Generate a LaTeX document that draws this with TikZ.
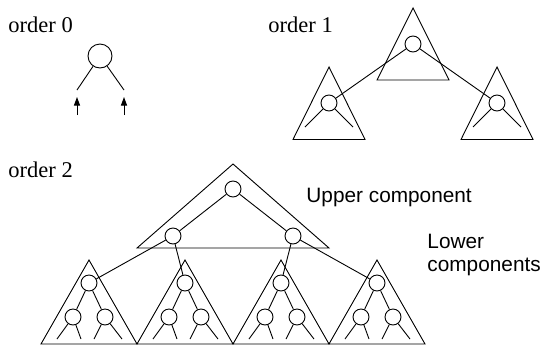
\documentclass[tikz,border=0pt]{standalone}
\usepackage{fontspec}
\setmainfont{Liberation Serif}
\newfontfamily\labelsans{Liberation Sans}
\usetikzlibrary{arrows.meta}
\begin{document}
\begin{tikzpicture}[x=1pt,y=-1pt,line width=0.9pt,
  vert/.style={circle,draw,inner sep=0pt,minimum size=16pt},
  bigvert/.style={vert,minimum size=24pt},
  comp/.style={draw,line join=miter},
  link/.style={draw},
  uparrow/.style={-{Triangle[length=8.5pt,width=6pt]}},
  ordertext/.style={font=\fontsize{22.5}{27}\selectfont,anchor=base west,inner sep=0pt},
  parttext/.style={font=\labelsans\fontsize{20.8}{23.3}\selectfont,anchor=base west,inner sep=0pt,align=left}]
\useasboundingbox (0,0) rectangle (543,346);

% ---- order 0: a single vertex with two incoming edges
\node[ordertext] (t0) at (8,32.7) {order 0};
\node[bigvert] (v0) at (100,56) {};
\coordinate (v0l) at (77,90);
\coordinate (v0r) at (124,90);
\draw[link] (v0) -- (v0l);
\draw[link] (v0) -- (v0r);
\coordinate (a0ls) at (77,115);
\coordinate (a0le) at (77,97);
\coordinate (a0rs) at (124,115);
\coordinate (a0re) at (124,97);
\draw[uparrow] (a0ls) -- (a0le);
\draw[uparrow] (a0rs) -- (a0re);

% ---- order 1: three order-0 blocks
\node[ordertext] (t1) at (268,32.5) {order 1};
\draw[comp] (413,8) -- (449,80) -- (377,80) -- cycle;
\node[vert] (o1t) at (413,44) {};
\foreach \n/\cx in {a/329,b/497} {
  \draw[comp] (\cx,67) -- (\cx+36,139.5) -- (\cx-36,139.5) -- cycle;
  \node[vert] (o1\n) at (\cx,103) {};
  \coordinate (o1\n l) at (\cx-24,127);
  \coordinate (o1\n r) at (\cx+24,127);
  \draw[link] (o1\n) -- (o1\n l);
  \draw[link] (o1\n) -- (o1\n r);
}
\draw[link] (o1t) -- (o1a);
\draw[link] (o1t) -- (o1b);

% ---- order 2: upper component
\node[ordertext] (t2) at (8,177.7) {order 2};
\draw[comp] (233,164) -- (329,248) -- (137,248) -- cycle;
\node[vert] (ut) at (233,189) {};
\node[vert] (ul) at (173,236) {};
\node[vert] (ur) at (293,236) {};
\draw[link] (ut) -- (ul);
\draw[link] (ut) -- (ur);

% ---- order 2: lower components
\foreach \i/\cx in {1/89,2/185,3/281,4/377} {
  \draw[comp] (\cx,260) -- (\cx+48,344) -- (\cx-48,344) -- cycle;
  \node[vert] (r\i) at (\cx,283) {};
  \node[vert] (p\i) at (\cx-16,317) {};
  \node[vert] (q\i) at (\cx+16,317) {};
  \draw[link] (r\i) -- (p\i);
  \draw[link] (r\i) -- (q\i);
  \coordinate (p\i a) at (\cx-32,339);
  \coordinate (p\i b) at (\cx-8,339);
  \coordinate (q\i a) at (\cx+5,339);
  \coordinate (q\i b) at (\cx+33,339);
  \draw[link] (p\i) -- (p\i a);
  \draw[link] (p\i) -- (p\i b);
  \draw[link] (q\i) -- (q\i a);
  \draw[link] (q\i) -- (q\i b);
}
\draw[link] (ul) -- (r1);
\draw[link] (ul) -- (r2);
\draw[link] (ur) -- (r3);
\draw[link] (ur) -- (r4);

\node[parttext] (upper) at (306,202.7) {Upper component};
\node[parttext] (lower) at (427,271.7) {Lower\\components};
\end{tikzpicture}
\end{document}
